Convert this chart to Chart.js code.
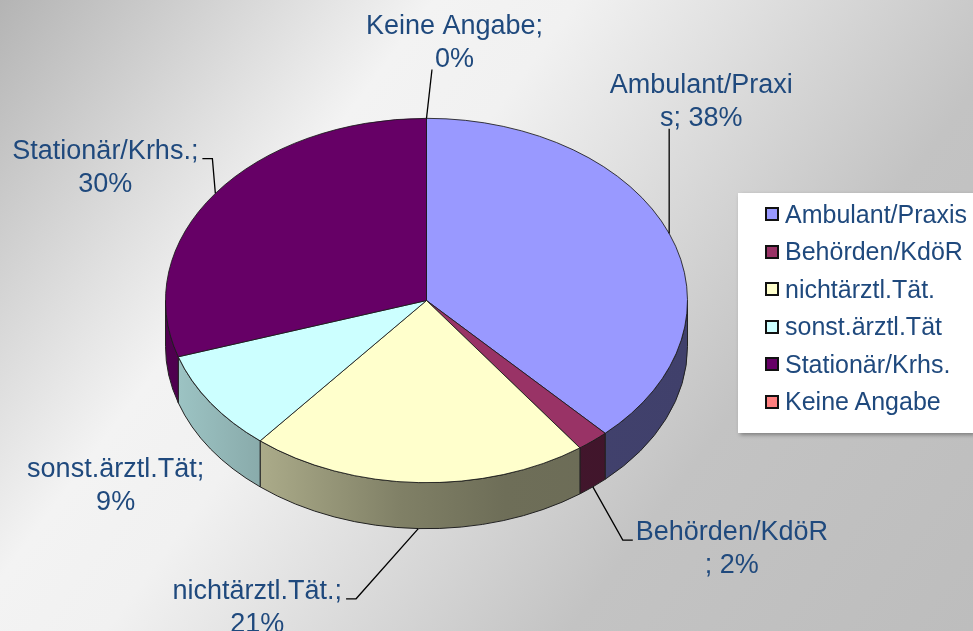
<!DOCTYPE html>
<html>
<head>
<meta charset="utf-8">
<script src="https://cdn.jsdelivr.net/npm/chart.js@4.4.0/dist/chart.umd.min.js"></script>
<style>
  html, body { margin: 0; padding: 0; overflow: hidden; background: #fff; }
  #wrap { position: relative; width: 973px; height: 631px; }
  #chart { position: absolute; left: 0; top: 0; }
  #legend {
    position: absolute; left: 738px; top: 193px; width: 235px; height: 240px;
    background: #fff; box-shadow: 2px 2px 4px rgba(0, 0, 0, 0.35);
    font: 25px "Liberation Sans", Arial, sans-serif; color: #1F497D;
  }
  .item { position: absolute; left: 27px; height: 30px; display: flex; align-items: center; white-space: nowrap; }
  .swatch { width: 10px; height: 10px; border: 2px solid #111; margin-right: 6px; }
</style>
</head>
<body>
<div id="wrap">
  <canvas id="chart" width="973" height="631"></canvas>
  <div id="legend"></div>
</div>
<script>
  const categories = ["Ambulant/Praxis", "Behörden/KdöR", "nichtärztl.Tät.", "sonst.ärztl.Tät", "Stationär/Krhs.", "Keine Angabe"];
  const percentages = [38, 2, 21, 9, 30, 0];
  const sliceColors = ["#9999FF", "#993366", "#FFFFCC", "#CCFFFF", "#660066", "#FF8080"];

  // where each data label sits, relative to its slice's anchor point
  const labelShift = [[32, -134], [139, 60], [-161, 77], [-95, 35], [-110, -28], [28, -78]];
  const labelLeader = [true, true, true, false, true, true];

  const TILT = 0.698; // vertical squash of the pie
  const DEPTH = 46; // thickness of the 3D side
  const TEXT_COLOR = "#1F497D";
  const LABEL_FONT = '27px "Liberation Sans", Arial, sans-serif';

  function hexToRgb(hex) {
    const n = parseInt(hex.slice(1), 16);
    return [(n >> 16) & 255, (n >> 8) & 255, n & 255];
  }

  function shadeColor(hex, f) {
    const [r, g, b] = hexToRgb(hex);
    return `rgb(${Math.round(r * f)},${Math.round(g * f)},${Math.round(b * f)})`;
  }

  const bgPlugin = {
    id: "bg",
    beforeDraw(chart) {
      const { ctx, width, height } = chart;
      const g = ctx.createLinearGradient(0, 0, 926, 694);
      g.addColorStop(0, "#b4b4b4");
      g.addColorStop(0.3, "#f3f3f3");
      g.addColorStop(0.4, "#f1f1f1");
      g.addColorStop(0.72, "#c3c3c3");
      g.addColorStop(1, "#bdbdbd");
      ctx.save();
      ctx.fillStyle = g;
      ctx.fillRect(0, 0, width, height);
      ctx.restore();
    },
  };

  const tiltPlugin = {
    id: "tilt",
    beforeDatasetsDraw(chart) {
      const ctx = chart.ctx;
      const arcs = chart.getDatasetMeta(0).data;
      if (!arcs.length) return;
      const cx = arcs[0].x, cy = arcs[0].y, r = arcs[0].outerRadius;
      const ry = r * TILT;

      // side walls (only the front half is visible)
      arcs.forEach((arc, i) => {
        const a1 = Math.max(arc.startAngle, 0);
        const a2 = Math.min(arc.endAngle, Math.PI);
        if (a2 <= a1) return;
        const base = sliceColors[i];
        const g = ctx.createLinearGradient(cx - r, 0, cx + r, 0);
        g.addColorStop(0, shadeColor(base, 0.78));
        g.addColorStop(0.2, shadeColor(base, 0.66));
        g.addColorStop(0.45, shadeColor(base, 0.5));
        g.addColorStop(0.65, shadeColor(base, 0.43));
        g.addColorStop(1, shadeColor(base, 0.42));
        ctx.save();
        ctx.beginPath();
        ctx.ellipse(cx, cy, r, ry, 0, a1, a2, false);
        ctx.lineTo(cx + r * Math.cos(a2), cy + ry * Math.sin(a2) + DEPTH);
        ctx.ellipse(cx, cy + DEPTH, r, ry, 0, a2, a1, true);
        ctx.closePath();
        ctx.fillStyle = g;
        ctx.fill();
        ctx.strokeStyle = "#222";
        ctx.lineWidth = 1;
        ctx.stroke();
        ctx.restore();
      });

      ctx.save();
      ctx.translate(0, cy);
      ctx.scale(1, TILT);
      ctx.translate(0, -cy);
    },
    afterDatasetsDraw(chart) {
      chart.ctx.restore();
    },
  };

  function wrapLabel(ctx, text, maxW) {
    const lines = [];
    let cur = "";
    text.split(" ").forEach((w) => {
      const trial = cur ? cur + " " + w : w;
      if (ctx.measureText(trial).width <= maxW) {
        cur = trial;
        return;
      }
      if (cur) lines.push(cur);
      let piece = "";
      for (const ch of w) {
        if (piece && ctx.measureText(piece + ch).width > maxW) {
          lines.push(piece);
          piece = ch;
        } else {
          piece += ch;
        }
      }
      cur = piece;
    });
    if (cur) lines.push(cur);
    return lines;
  }

  const labelPlugin = {
    id: "pieLabels",
    afterDraw(chart) {
      const ctx = chart.ctx;
      const arcs = chart.getDatasetMeta(0).data;
      const total = percentages.reduce((a, b) => a + b, 0);
      ctx.save();
      ctx.font = LABEL_FONT;
      const lineH = 33;
      arcs.forEach((arc, i) => {
        const mid = (arc.startAngle + arc.endAngle) / 2;
        const r = arc.outerRadius;
        let ax = arc.x + r * Math.cos(mid);
        let ay = arc.y + r * TILT * Math.sin(mid);
        if (Math.sin(mid) > 0.05) ay += DEPTH;

        const pct = Math.round((percentages[i] / total) * 100);
        const lines = wrapLabel(ctx, categories[i] + "; " + pct + "%", 195);
        const bx = ax + labelShift[i][0];
        const by = ay + labelShift[i][1];
        const top = by - (lines.length * lineH) / 2;
        const boxes = lines.map((t, j) => {
          const w = ctx.measureText(t).width;
          const mid = top + lineH / 2 + j * lineH;
          return { t, left: bx - w / 2, right: bx + w / 2, base: mid + 9.7 };
        });

        ctx.fillStyle = TEXT_COLOR;
        ctx.textAlign = "center";
        ctx.textBaseline = "alphabetic";
        boxes.forEach((b) => ctx.fillText(b.t, bx, b.base));

        if (!labelLeader[i]) return;
        const minL = Math.min(...boxes.map((b) => b.left));
        const maxR = Math.max(...boxes.map((b) => b.right));
        const last = boxes[boxes.length - 1];
        ctx.strokeStyle = "#000";
        ctx.lineWidth = 1.3;
        ctx.beginPath();
        ctx.moveTo(ax, ay);
        if (last.base < ay && ax >= minL && ax <= maxR) {
          const ex = Math.min(Math.max(ax, last.left - 3), last.right);
          ctx.lineTo(ex, last.base + 3);
        } else if (bx > ax) {
          const first = boxes[0];
          ctx.lineTo(first.left - 13, first.base);
          ctx.lineTo(first.left - 3, first.base);
        } else {
          const first = boxes[0];
          ctx.lineTo(first.right + 14, first.base);
          ctx.lineTo(first.right + 4, first.base);
        }
        ctx.stroke();
      });
      ctx.restore();
    },
  };

  new Chart(document.getElementById("chart"), {
    type: "pie",
    data: {
      labels: categories,
      datasets: [
        {
          data: percentages,
          backgroundColor: sliceColors,
          borderColor: "#1a1a1a",
          borderWidth: 1,
          hoverOffset: 0,
        },
      ],
    },
    options: {
      responsive: false,
      animation: false,
      events: [],
      clip: false,
      layout: { padding: { left: 165, right: 285, top: 39, bottom: 69 } },
      plugins: {
        legend: { display: false },
        tooltip: { enabled: false },
      },
    },
    plugins: [bgPlugin, tiltPlugin, labelPlugin],
  });

  // legend
  const legend = document.getElementById("legend");
  categories.forEach((name, i) => {
    const item = document.createElement("div");
    item.className = "item";
    item.style.top = 21 + i * 37.5 - 15 + "px";
    const sw = document.createElement("span");
    sw.className = "swatch";
    sw.style.background = sliceColors[i];
    const txt = document.createElement("span");
    txt.textContent = name;
    item.appendChild(sw);
    item.appendChild(txt);
    legend.appendChild(item);
  });
</script>
</body>
</html>
